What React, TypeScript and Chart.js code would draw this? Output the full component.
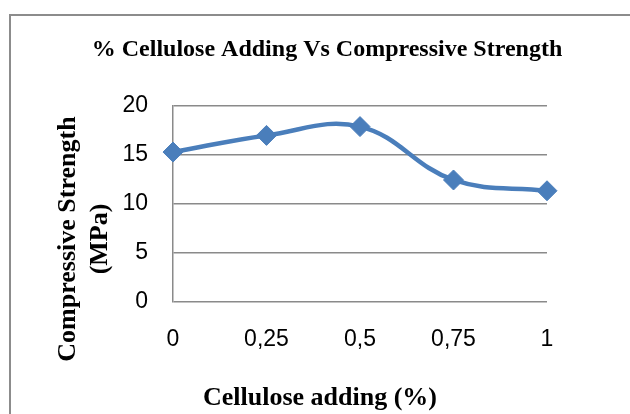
import React, { useEffect, useRef } from "react";
import { Chart, registerables } from "chart.js";

Chart.register(...registerables);

// ---- data ----
const categories = ["0", "0,25", "0,5", "0,75", "1"];
const strengthValues = [15.3, 17.0, 17.9, 12.45, 11.35];
const yTickValues = [0, 5, 10, 15, 20];
const chartTitle = "% Cellulose Adding Vs Compressive Strength";
const xAxisTitle = "Cellulose adding (%)";
const yAxisTitleLines = ["Compressive Strength", "(MPa)"];

const BLUE = "#4A7EBB";
const GRID = "#8a8a8a";
const SERIF = "'Liberation Serif', 'Times New Roman', serif";
const SANS = "'Liberation Sans', Arial, sans-serif";

const decorPlugin = {
  id: "decor",
  beforeDraw(chart: any) {
    const ctx = chart.ctx;
    ctx.save();
    ctx.strokeStyle = "#8c8c8c";
    ctx.lineWidth = 2;
    ctx.beginPath();
    ctx.moveTo(10, 414);
    ctx.lineTo(10, 15);
    ctx.lineTo(630, 15);
    ctx.stroke();
    ctx.restore();
  },
  afterDraw(chart: any) {
    const ctx = chart.ctx;
    const area = chart.chartArea;
    ctx.save();
    ctx.fillStyle = "#000";
    ctx.textBaseline = "alphabetic";
    ctx.textAlign = "center";
    // main title
    ctx.font = `bold 24px ${SERIF}`;
    ctx.fillText(chartTitle, 327, 56);
    // x title
    ctx.font = `bold 26px ${SERIF}`;
    ctx.fillText(xAxisTitle, 320, 405);
    // y title (rotated)
    const cy = area.top + 133;
    ctx.translate(0, cy);
    ctx.rotate(-Math.PI / 2);
    ctx.fillText(yAxisTitleLines[0], 0, 75);
    ctx.fillText(yAxisTitleLines[1], 0, 107);
    ctx.restore();
  },
};

export default function App() {
  const ref = useRef<HTMLCanvasElement | null>(null);

  useEffect(() => {
    if (!ref.current) return;
    const chart = new Chart(ref.current, {
      type: "line",
      data: {
        labels: categories,
        datasets: [
          {
            data: strengthValues,
            borderColor: BLUE,
            backgroundColor: BLUE,
            borderWidth: 4.5,
            tension: 0.4,
            pointStyle: "rectRot",
            pointRadius: 10,
            pointBorderWidth: 1,
            pointBackgroundColor: BLUE,
            pointBorderColor: BLUE,
            clip: false as any,
          },
        ],
      },
      options: {
        responsive: false,
        animation: false,
        layout: { padding: { left: 0, top: 106, right: 83, bottom: 0 } },
        plugins: {
          legend: { display: false },
          title: { display: false },
          tooltip: { enabled: false },
        },
        scales: {
          x: {
            type: "category",
            offset: false,
            grid: { display: false, drawTicks: false },
            border: { display: false },
            ticks: {
              padding: 24,
              color: "#000",
              maxRotation: 0,
              autoSkip: false,
              font: { family: SANS, size: 23 },
            },
            afterFit(scale: any) {
              scale.height = 112;
            },
          },
          y: {
            type: "linear",
            min: 0,
            max: 20,
            grid: { color: GRID, lineWidth: 1.5, drawTicks: false },
            border: { display: true, color: GRID, width: 1.5 },
            ticks: {
              padding: 25,
              color: "#000",
              font: { family: SANS, size: 23 },
            },
            afterBuildTicks(scale: any) {
              scale.ticks = yTickValues.map((v) => ({ value: v }));
            },
            afterFit(scale: any) {
              scale.width = 173;
            },
          },
        },
      } as any,
      plugins: [decorPlugin],
    });
    return () => chart.destroy();
  }, []);

  return (
    <div style={{ position: "fixed", left: 0, top: 0, width: 630, height: 414, background: "#fff" }}>
      <canvas ref={ref} width={630} height={414} style={{ display: "block" }} />
    </div>
  );
}
